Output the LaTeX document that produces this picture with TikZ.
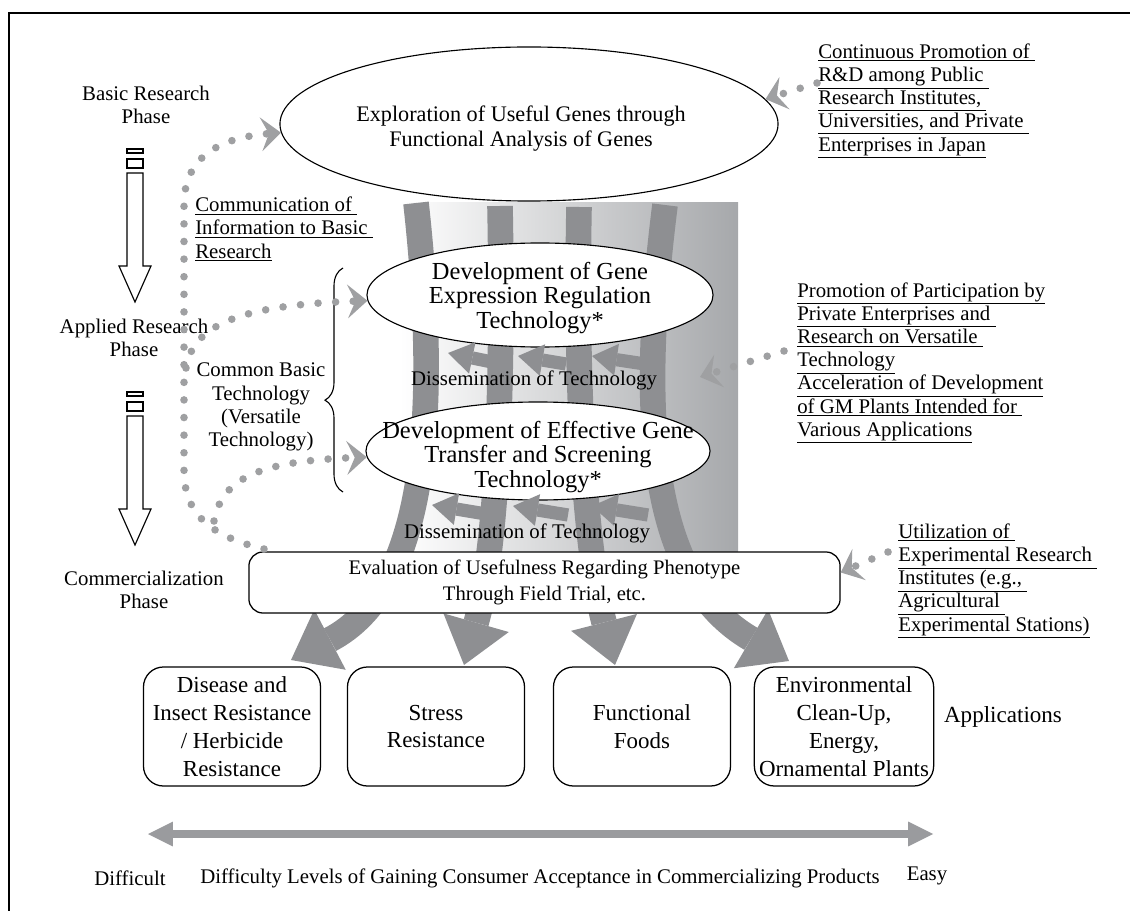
\documentclass[tikz,border=0pt]{standalone}
\usepackage{fontspec}
\setmainfont{Liberation Serif}
\usetikzlibrary{positioning,arrows.meta,shapes.geometric,decorations.pathreplacing}
\definecolor{bandgray}{HTML}{8E8F92}
\definecolor{dotgray}{HTML}{9FA0A2}
\definecolor{shadegray}{HTML}{A6A8AB}
\definecolor{scalegray}{HTML}{9A9B9E}

\begin{document}
\begin{tikzpicture}[x=0.025cm, y=-0.025cm,
  txt/.style={inner sep=0pt, align=center, font=\fontsize{14.8}{16.5}\selectfont},
  note/.style={txt, align=left, anchor=west},
  oval/.style={ellipse, draw, fill=white, line width=0.8pt, inner sep=0pt},
  ovaltxt/.style={inner sep=0pt, align=center, font=\fontsize{17.4}{17.6}\selectfont},
  appbox/.style={draw, fill=white, rounded corners=0.5cm, line width=0.9pt,
    minimum width=4.425cm, minimum height=2.975cm, align=center,
    font=\fontsize{16.3}{19.8}\selectfont},
  band/.style={bandgray, line width=0.64cm,
    -{Triangle[length=1.1cm, width=1.7cm, line width=0pt]}},
  thinband/.style={bandgray, line width=0.33cm,
    -{Triangle[length=0.62cm, width=0.8cm, line width=0pt]}},
  dotline/.style={dotgray, line width=0.19cm, line cap=round,
    dash pattern=on 0pt off 0.44cm,
    -{Stealth[length=0.5cm, width=0.85cm, inset=0.2cm, line width=0pt]}},
  phase/.style={draw, fill=white, line width=0.8pt}]

\useasboundingbox (0,0) rectangle (1130,911);
\draw[line width=0.8pt] (9,911) -- (9,13) -- (1130,13);

% shaded band behind the technology stage
\shade[left color=white, right color=shadegray] (400,203) rectangle (738,552);

% wide gray arrows down to the applications
\coordinate (B1top) at (416,203);
\coordinate (B1tip) at (291,660);
\coordinate (B2top) at (500,206);
\coordinate (B2tip) at (464,665);
\coordinate (B3top) at (579,207);
\coordinate (B3tip) at (615,665);
\coordinate (B4top) at (665,205);
\coordinate (B4tip) at (789,661);
\draw[band] (B1top) .. controls (440,420) and (425,590) .. (B1tip);
\draw[band] (B2top) .. controls (504,420) and (494,560) .. (B2tip);
\draw[band] (B3top) .. controls (575,420) and (588,560) .. (B3tip);
\draw[band] (B4top) .. controls (638,420) and (650,580) .. (B4tip);

\node[oval, minimum width=12.45cm, minimum height=3.85cm] (Expl) at (529,124) {};
\node[ovaltxt, font=\fontsize{15.8}{17.8}\selectfont] at (521,129)
  {Exploration of Useful Genes through\\Functional Analysis of Genes};
\node[oval, minimum width=8.65cm, minimum height=2.6cm] (Expr) at (540,295) {};
\node[ovaltxt] at (540,298) {Development of Gene\\Expression Regulation\\Technology*};
\node[oval, minimum width=8.6cm, minimum height=2.45cm] (Trans) at (538,451) {};
\node[ovaltxt] at (538,457) {Development of Effective Gene\\Transfer and Screening\\Technology*};

\node[draw, fill=white, rounded corners=0.35cm, line width=0.9pt,
  minimum width=14.775cm, minimum height=1.525cm, align=center,
  font=\fontsize{14.7}{19}\selectfont] (Eval) at (544.5,582.5)
  {Evaluation of Usefulness Regarding Phenotype\\Through Field Trial, etc.};

% dissemination arrows
\foreach \xs/\ys/\xe/\ye in {492/362/448/353, 566/364/518/356, 645/364/592/356,
    492/515/432/505, 568/515/513/506, 648/515/592/506}
  \draw[thinband] (\xs,\ys) to (\xe,\ye);
\node[txt] (Diss1) at (534,380) {Dissemination of Technology};
\node[txt] (Diss2) at (527,533) {Dissemination of Technology};

% applications
\node[appbox] (Dis) at (232,726.5) {Disease and\\Insect Resistance\\/ Herbicide\\Resistance};
\node[appbox] (Str) at (436,726.5) {Stress\\Resistance};
\node[appbox] (Func) at (642,726.5) {Functional\\Foods};
\node[appbox] (Env) at (844,726.5) {Environmental\\Clean-Up,\\Energy,\\Ornamental Plants};
\node[txt, font=\fontsize{16.4}{18}\selectfont] (Appl) at (1003,717) {Applications};

% phases
\node[txt] (BasicPh) at (146,105) {Basic Research\\Phase};
\node[txt] (ApplPh) at (134,338) {Applied Research\\Phase};
\node[txt] (ComPh) at (144,590) {Commercialization\\Phase};
\foreach \t/\b in {149/302, 392/545} {
  \draw[phase] (127,\t) rectangle (143,\t+4);
  \draw[phase] (127,\t+10) rectangle (143,\t+19);
  \draw[phase] (127,\t+24) -- (143,\t+24) -- (143,\b-36) -- (151,\b-36)
    -- (135,\b) -- (119,\b-36) -- (127,\b-36) -- cycle;
}

\node[txt] (ComBas) at (261,407) {Common Basic\\Technology\\(Versatile\\Technology)};
\draw[line width=0.8pt, decorate, decoration={brace, amplitude=0.45cm, aspect=0.41}]
  (343,492) -- (343,268);
\node[note] (CommInfo) at (195,229)
  {\underline{Communication of\ }\\\underline{Information to Basic\ }\\\underline{Research}};

% feedback to basic research
\coordinate (FbStart) at (264,549);
\coordinate (FbA) at (186,368);
\coordinate (FbB) at (214,521);
\draw[dotline] (FbStart) .. controls (205,535) and (184,510) .. (184,470)
  -- (184,205) .. controls (184,160) and (215,138) .. (Expl.182);
\draw[dotline] (FbA) .. controls (193,325) and (240,305) .. (Expr);
\draw[dotline] (FbB) .. controls (222,478) and (260,461) .. (Trans);

% measures on the right
\node[note] (Promo) at (818,101)
  {\underline{Continuous Promotion of\ }\\\underline{R\&D among Public\ }\\
   \underline{Research Institutes,\ }\\\underline{Universities, and Private\ }\\
   \underline{Enterprises in Japan}};
\node[note] (Partic) at (797,363)
  {\underline{Promotion of Participation by}\\\underline{Private Enterprises and\ }\\
   \underline{Research on Versatile\ }\\\underline{Technology}\\
   \underline{Acceleration of Development}\\\underline{of GM Plants Intended for\ }\\
   \underline{Various Applications}};
\node[note] (Util) at (898,581)
  {\underline{Utilization of\ }\\\underline{Experimental Research\ }\\
   \underline{Institutes (e.g.,\ }\\\underline{Agricultural\ }\\
   \underline{Experimental Stations)}};
\coordinate (R1s) at (817,83);
\coordinate (R2s) at (784,351);
\coordinate (R2e) at (700,377);
\coordinate (R3s) at (888,552);
\draw[dotline] (R1s) to (Expl.6);
\draw[dotline] (R2s) to (R2e);
\draw[dotline] (R3s) to ([yshift=0.25cm]Eval.east);

% acceptance scale
\coordinate (ScaleL) at (148,834);
\coordinate (ScaleR) at (933,834);
\draw[scalegray, line width=0.2cm,
  {Triangle[length=0.62cm, width=0.62cm, line width=0pt]}-{Triangle[length=0.62cm, width=0.62cm, line width=0pt]}]
  (ScaleL) -- (ScaleR);
\node[txt] (Diffc) at (130,878) {Difficult};
\node[txt] (Levels) at (540,878)
  {Difficulty Levels of Gaining Consumer Acceptance in Commercializing Products};
\node[txt] (Easy) at (927,876) {Easy};
\end{tikzpicture}
\end{document}
